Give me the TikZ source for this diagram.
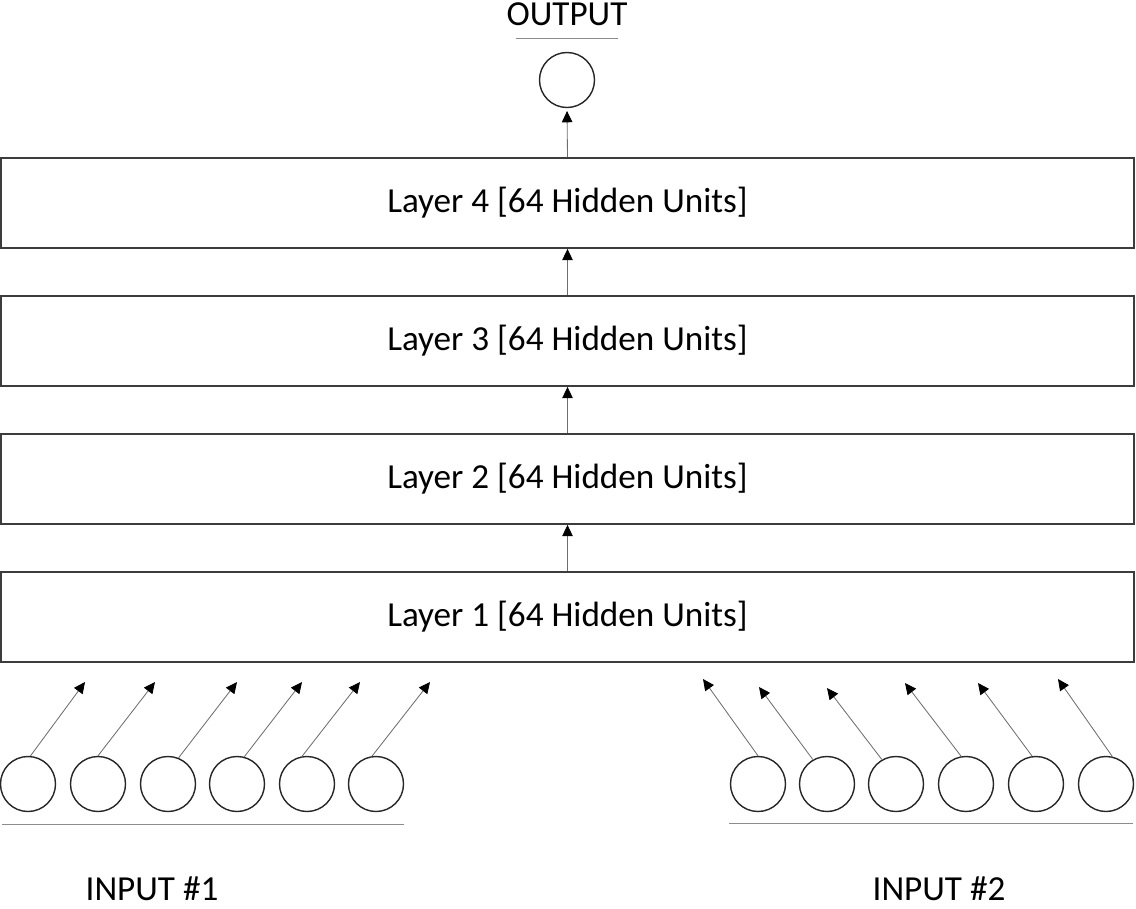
\documentclass[tikz,border=0pt]{standalone}
\usepackage{fontspec}
\setmainfont{Carlito}
\usetikzlibrary{positioning,arrows.meta}
\definecolor{boxgray}{RGB}{60,60,60}
\definecolor{linegray}{RGB}{110,110,110}

\tikzset{
  layerbox/.style={draw=boxgray,line width=1.3pt,minimum width=28.325cm,
    minimum height=2.25cm,inner sep=0pt,font=\fontsize{25}{30}\selectfont},
  unit/.style={circle,draw=black!85,line width=1pt,minimum size=1.375cm,inner sep=0pt},
  feed/.style={draw=linegray,line width=0.6pt,
    -{Triangle[length=8pt,width=7.5pt,color=black]}},
  tagtext/.style={font=\fontsize{25}{30}\selectfont,anchor=base,inner sep=0pt},
  hline/.style={draw=black!45,line width=0.7pt}
}

\begin{document}
\begin{tikzpicture}[x=0.025cm,y=-0.025cm]
  \useasboundingbox (0,0) rectangle (1136,908);

  % hidden layers
  \node[layerbox] (l4) at (567.5,203) {Layer 4 [64 Hidden Units]};
  \node[layerbox] (l3) at (567.5,341) {Layer 3 [64 Hidden Units]};
  \node[layerbox] (l2) at (567.5,479) {Layer 2 [64 Hidden Units]};
  \node[layerbox] (l1) at (567.5,617) {Layer 1 [64 Hidden Units]};

  \draw[feed] (l1.north) -- (l2.south);
  \draw[feed] (l2.north) -- (l3.south);
  \draw[feed] (l3.north) -- (l4.south);

  % output
  \node[unit] (out) at (567,80) {};
  \node[tagtext] (outtext) at (567,25) {OUTPUT};
  \draw[hline] (516,38) -- (618,38);
  \draw[feed,shorten >=2pt] (l4.north) -- (out.south);

  % input #1
  \foreach \n/\x in {1/28,2/98,3/168,4/237,5/307,6/376}
    \node[unit] (a\n) at (\x,784) {};
  \foreach \n/\ang/\ex in {1/85/85,2/90/155,3/68/237,4/75/302,5/100/360,6/98/430}{
    \coordinate (ta\n) at (\ex,682);
    \draw[feed] (a\n.\ang) -- (ta\n);
  }
  \draw[hline] (2,824) -- (404,824);
  \node[tagtext] (in1) at (152,900) {INPUT \#1};

  % input #2
  \foreach \n/\x in {1/758,2/827,3/896,4/966,5/1036,6/1106}
    \node[unit] (b\n) at (\x,784) {};
  \foreach \n/\ang/\ex/\ey in {1/90/703/679,2/120/759/687,3/120/827/688,
                               4/100/905/683,5/98/978/683,6/77/1058/679}{
    \coordinate (tb\n) at (\ex,\ey);
    \draw[feed] (b\n.\ang) -- (tb\n);
  }
  \draw[hline] (729,823) -- (1133,823);
  \node[tagtext] (in2) at (939,900) {INPUT \#2};
\end{tikzpicture}
\end{document}
